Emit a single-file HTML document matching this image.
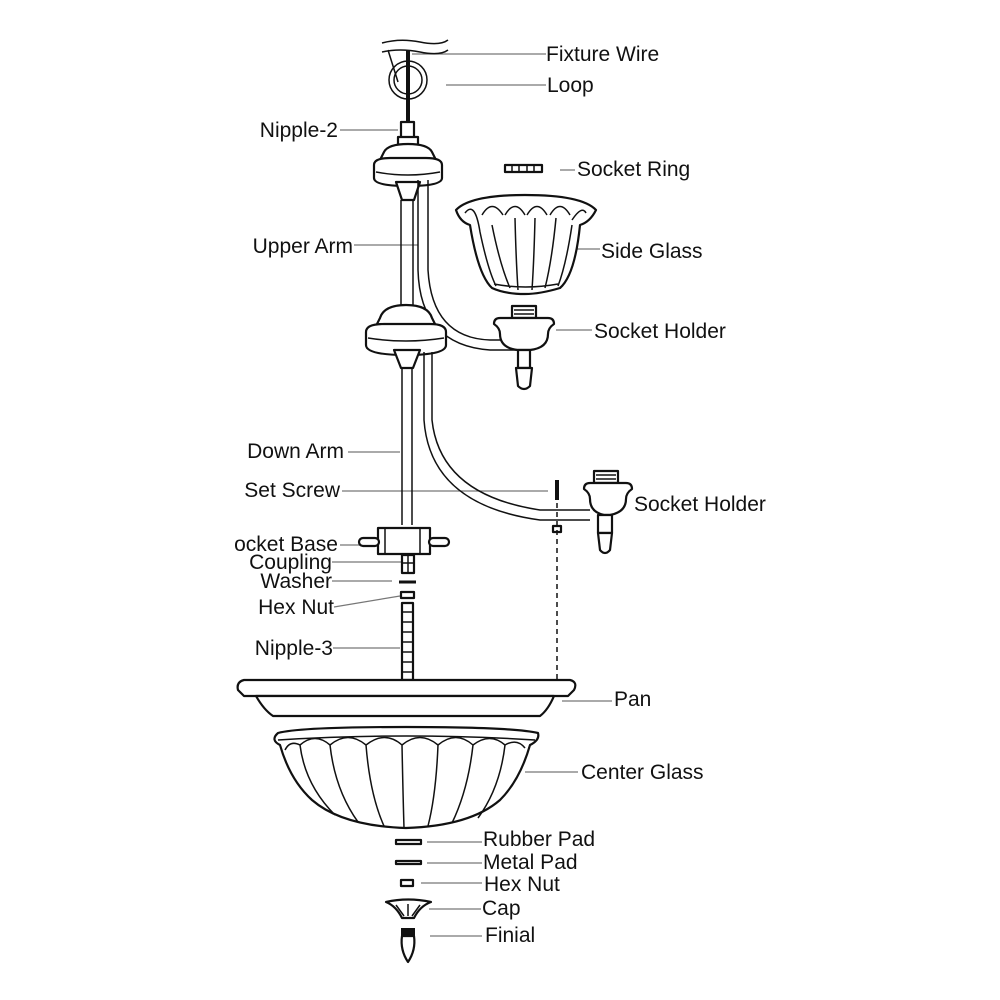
<!DOCTYPE html>
<html><head><meta charset="utf-8"><style>
html,body{margin:0;padding:0;background:#fff}
svg{display:block}
text{font-family:"Liberation Sans",sans-serif;font-size:21px;fill:#111}
.l{stroke:#777;stroke-width:1.2;fill:none}
.s{stroke:#111;stroke-width:2.2;fill:#fff;stroke-linejoin:round}
.t{stroke:#111;stroke-width:1.5;fill:none}
</style></head><body>
<svg width="1000" height="1000" viewBox="0 0 1000 1000">
<path class="l" d="M412 54H546M446 85H546M340 130H398M560 170H575M354 245H418M560 249H600M556 330H592M348 452H400M342 491H548M340 545H384M332 562H402M332 581H392M334 607L400 596M333 648H400M562 701H612M525 772H578M427 842H482M427 863H482M421 883H482M429 909H481M430 936H482"/>
<path class="t" stroke="#888" d="M382 43Q400 38 420 42T448 40M382 52Q400 48 420 52T448 50M388 50L398 82"/>
<circle cx="408" cy="80" r="19" class="t" stroke-width="2.5"/>
<circle cx="408" cy="80" r="14" class="t" stroke-width="1.5"/>
<path d="M408 50V122" stroke="#111" stroke-width="4"/>
<rect x="401" y="122" width="13" height="16" class="s" stroke-width="1.5"/>
<rect x="398" y="137" width="20" height="8" class="s" stroke-width="1.5"/>
<path class="s" d="M384 152Q388 144 408 144Q428 144 432 152L436 160H380Z"/>
<path class="s" d="M374 165Q374 158 390 158H426Q442 158 442 165V178Q442 186 408 186Q374 186 374 178Z"/>
<path class="t" d="M376 172Q408 178 440 172"/>
<path class="s" d="M396 182L402 200H414L420 182Z"/>
<path class="t" d="M401 200V306M413 200V306"/>
<path class="t" d="M418 180V270Q420 345 490 350H518M428 180V270Q432 338 490 340H518"/>
<path class="s" d="M380 318Q384 305 406 305Q428 305 432 318L436 326H376Z"/>
<path class="s" d="M366 332Q366 324 384 324H430Q446 324 446 332V345Q446 355 406 355Q366 355 366 345Z"/>
<path class="t" d="M368 338Q406 344 444 338"/>
<path class="s" d="M394 350L401 368H413L420 350Z"/>
<path class="t" d="M402 368V525M412 368V525"/>
<path class="t" d="M424 352V420Q430 505 540 520H590M432 352V420Q440 495 540 510H590"/>
<rect x="505" y="165" width="37" height="7" class="s" stroke-width="1.5"/>
<path class="t" d="M512 165V172M519 165V172M527 165V172M534 165V172"/>
<path class="s" d="M456 210Q470 195 525 195Q582 195 596 210Q590 222 580 225Q575 275 560 288Q540 294 525 294Q505 294 492 288Q478 275 470 225Q460 222 456 210Z"/>
<path class="t" d="M465 213Q475 200 480 232M482 215Q492 198 503 215M505 215Q515 198 525 215M527 215Q537 198 547 215M550 215Q560 198 570 215M572 220Q582 205 586 213M480 232Q488 270 496 286M492 225Q500 265 510 288M515 218Q516 260 518 290M535 218Q534 260 532 290M556 218Q552 260 545 288M572 225Q566 265 558 286M494 284Q525 290 558 284"/>
<rect x="512" y="306" width="24" height="12" class="s" stroke-width="1.5"/>
<path class="t" d="M514 310H534M514 314H534"/>
<path class="s" d="M494 324Q494 318 500 318H548Q554 318 554 324Q548 328 548 334Q548 348 530 350H518Q500 348 500 334Q500 328 494 324Z"/>
<rect x="518" y="350" width="12" height="18" class="s" stroke-width="1.5"/>
<path class="s" d="M516 368H532L530 386Q524 392 518 386Z"/>
<rect x="594" y="471" width="24" height="12" class="s" stroke-width="1.5"/>
<path class="t" d="M596 475H616M596 479H616"/>
<path class="s" d="M584 489Q584 483 590 483H626Q632 483 632 489Q626 493 626 499Q626 512 610 515H604Q590 512 590 499Q590 493 584 489Z"/>
<rect x="598" y="515" width="14" height="18" class="s" stroke-width="1.5"/>
<path class="s" d="M598 533H612L610 550Q605 556 600 550Z"/>
<path d="M557 480V500" stroke="#111" stroke-width="4"/>
<rect x="553" y="526" width="8" height="6" class="s" stroke-width="1.3"/>
<path d="M557 503V680" stroke="#111" stroke-width="1.5" stroke-dasharray="5 4"/>
<rect x="378" y="528" width="52" height="26" class="s"/>
<path class="t" d="M385 528V554M420 528V554"/>
<rect x="359" y="538" width="20" height="8" rx="4" class="s" stroke-width="1.5"/>
<rect x="429" y="538" width="20" height="8" rx="4" class="s" stroke-width="1.5"/>
<rect x="402" y="555" width="12" height="18" class="s" stroke-width="1.5"/>
<path class="t" d="M408 555V573M402 563H414"/>
<path d="M399 582H416" stroke="#111" stroke-width="3"/>
<rect x="401" y="592" width="13" height="6" class="s" stroke-width="1.5"/>
<rect x="402" y="603" width="11" height="77" class="s" stroke-width="1.5"/>
<path class="t" stroke-width="1" d="M402 612H413M402 622H413M402 632H413M402 642H413M402 652H413M402 662H413M402 672H413"/>
<path class="s" d="M244 680H570Q578 682 574 690L568 696H244L238 690Q236 682 244 680Z"/>
<path class="s" d="M256 696H554Q548 710 540 716H273Q264 710 256 696Z"/>
<path class="s" d="M278 733Q300 727 406 727Q512 727 538 733Q540 740 530 745Q520 780 500 800Q470 826 406 828Q342 826 312 800Q290 780 280 745Q270 740 278 733Z"/>
<path class="t" d="M278 740Q406 732 535 740"/>
<path class="t" d="M285 750Q290 740 300 745M300 745Q315 732 330 745M330 745Q348 730 366 745M366 745Q385 730 402 745M402 745Q420 730 438 745M438 745Q456 730 473 745M473 745Q490 732 505 745M505 745Q517 738 525 748M300 745Q305 785 335 815M330 745Q335 790 358 822M366 745Q370 795 384 826M402 745Q403 795 404 828M438 745Q436 795 428 826M473 745Q468 790 452 823M505 745Q500 788 478 818"/>
<rect x="396" y="840" width="25" height="4" class="s" stroke-width="1.3"/>
<rect x="396" y="861" width="25" height="3" class="s" stroke-width="1.3"/>
<rect x="401" y="880" width="12" height="6" class="s" stroke-width="1.3"/>
<path class="s" d="M386 902Q408 897 431 902Q420 906 414 918H402Q396 906 386 902Z"/>
<path class="t" d="M396 905L404 916M420 905L412 916M408 904V916"/>
<rect x="401" y="928" width="14" height="8" fill="#111"/>
<path class="s" d="M402 936H414Q416 950 408 962Q400 950 402 936Z"/>
<text x="546" y="61">Fixture Wire</text>
<text x="547" y="92" font-size="18">Loop</text>
<text x="338" y="137" text-anchor="end">Nipple-2</text>
<text x="577" y="176">Socket Ring</text>
<text x="601" y="258">Side Glass</text>
<text x="353" y="253" text-anchor="end">Upper Arm</text>
<text x="594" y="338">Socket Holder</text>
<text x="344" y="458" text-anchor="end">Down Arm</text>
<text x="340" y="497" text-anchor="end">Set Screw</text>
<text x="634" y="511">Socket Holder</text>
<text x="338" y="551" text-anchor="end">ocket Base</text>
<text x="332" y="569" text-anchor="end">Coupling</text>
<text x="332" y="588" text-anchor="end">Washer</text>
<text x="334" y="614" text-anchor="end">Hex Nut</text>
<text x="333" y="655" text-anchor="end">Nipple-3</text>
<text x="614" y="706">Pan</text>
<text x="581" y="779">Center Glass</text>
<text x="483" y="846">Rubber Pad</text>
<text x="483" y="869">Metal Pad</text>
<text x="484" y="891">Hex Nut</text>
<text x="482" y="915">Cap</text>
<text x="485" y="942">Finial</text>
</svg>
</body></html>
